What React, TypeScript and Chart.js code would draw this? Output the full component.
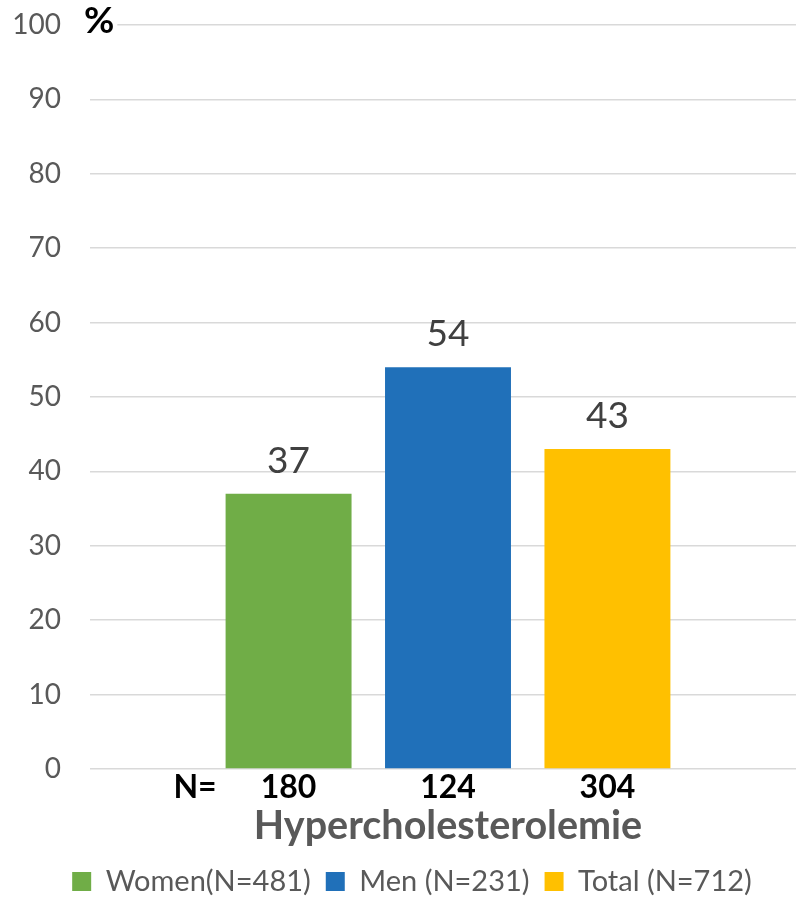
import React, { useEffect, useRef } from "react";
import { Chart, registerables } from "chart.js";

Chart.register(...registerables);

const categories = ["Hypercholesterolemie"];
const seriesLabels = ["Women(N=481)", "Men (N=231)", "Total (N=712)"];
const percentValues = [37, 54, 43];
const nValues = [180, 124, 304];
const seriesColors = ["#70AD47", "#2070B9", "#FFC000"];
const nPrefix = "N=";
const unitLabel = "%";
const yMin = 0;
const yMax = 100;
const yStep = 10;

const FONT = "Lato, 'Open Sans', sans-serif";

const overlayPlugin = {
  id: "overlay",
  afterLayout(chart: any) {
    if (chart.legend) {
      chart.legend.left += 18;
    }
  },
  afterDatasetsDraw(chart: any) {
    const ctx = chart.ctx;
    const area = chart.chartArea;
    ctx.save();
    chart.data.datasets.forEach((ds: any, i: number) => {
      const meta = chart.getDatasetMeta(i);
      const bar = meta.data[0];
      if (!bar) return;
      ctx.fillStyle = "#404040";
      ctx.font = `37px ${FONT}`;
      ctx.textAlign = "center";
      ctx.textBaseline = "alphabetic";
      ctx.fillText(String(ds.data[0]), bar.x, bar.y - 21);
      ctx.fillStyle = "#000000";
      ctx.font = `bold 32px ${FONT}`;
      ctx.fillText(String(nValues[i]), bar.x, area.bottom + 29);
      if (i === 0) {
        ctx.textAlign = "right";
        ctx.fillText(nPrefix, bar.x - bar.width / 2 - 9, area.bottom + 29);
      }
    });
    ctx.font = `bold 37px ${FONT}`;
    ctx.textAlign = "left";
    ctx.textBaseline = "alphabetic";
    const w = ctx.measureText(unitLabel).width;
    ctx.fillStyle = "#ffffff";
    ctx.fillRect(area.left - 5, area.top - 6, w + 2, 12);
    ctx.fillStyle = "#000000";
    ctx.fillText(unitLabel, area.left - 6, area.top + 8);
    ctx.restore();
  },
};

export default function App() {
  const canvasRef = useRef<HTMLCanvasElement | null>(null);

  useEffect(() => {
    if (!canvasRef.current) return;
    const chart = new Chart(canvasRef.current, {
      type: "bar",
      data: {
        labels: categories,
        datasets: seriesLabels.map((label, i) => ({
          label,
          data: [percentValues[i]],
          backgroundColor: seriesColors[i],
          borderWidth: 0,
          categoryPercentage: 0.668,
          barPercentage: 0.79,
        })),
      },
      options: {
        responsive: false,
        animation: false,
        layout: { padding: { top: 25, left: 0, right: 0, bottom: -9 } },
        plugins: {
          legend: {
            position: "bottom",
            labels: {
              font: { family: FONT, size: 29 },
              color: "#595959",
              boxWidth: 19,
              boxHeight: 19,
              padding: 15,
            },
          },
          tooltip: { enabled: false },
        },
        scales: {
          x: {
            grid: { display: false },
            border: { display: false },
            ticks: { display: false },
            title: {
              display: true,
              text: categories[0],
              color: "#595959",
              font: { family: FONT, size: 39.5, weight: "bold", lineHeight: 1 },
              padding: { top: 0, bottom: 6 },
            },
            afterFit: (s: any) => {
              s.height = 83;
            },
          },
          y: {
            min: yMin,
            max: yMax,
            ticks: {
              stepSize: yStep,
              color: "#595959",
              font: { family: FONT, size: 28 },
              padding: 29,
            },
            grid: {
              color: "#D9D9D9",
              lineWidth: 1.5,
              drawTicks: false,
            },
            border: { display: false },
            afterFit: (s: any) => {
              s.width = 90;
              s.paddingTop = 0;
              s.paddingBottom = 0;
            },
          },
        },
      },
      plugins: [overlayPlugin],
    });
    return () => chart.destroy();
  }, []);

  return (
    <div
      style={{
        position: "absolute",
        left: 0,
        top: 0,
        width: 796,
        height: 897,
        overflow: "hidden",
        background: "#ffffff",
      }}
    >
      <canvas ref={canvasRef} width={806} height={897} style={{ display: "block" }} />
    </div>
  );
}
